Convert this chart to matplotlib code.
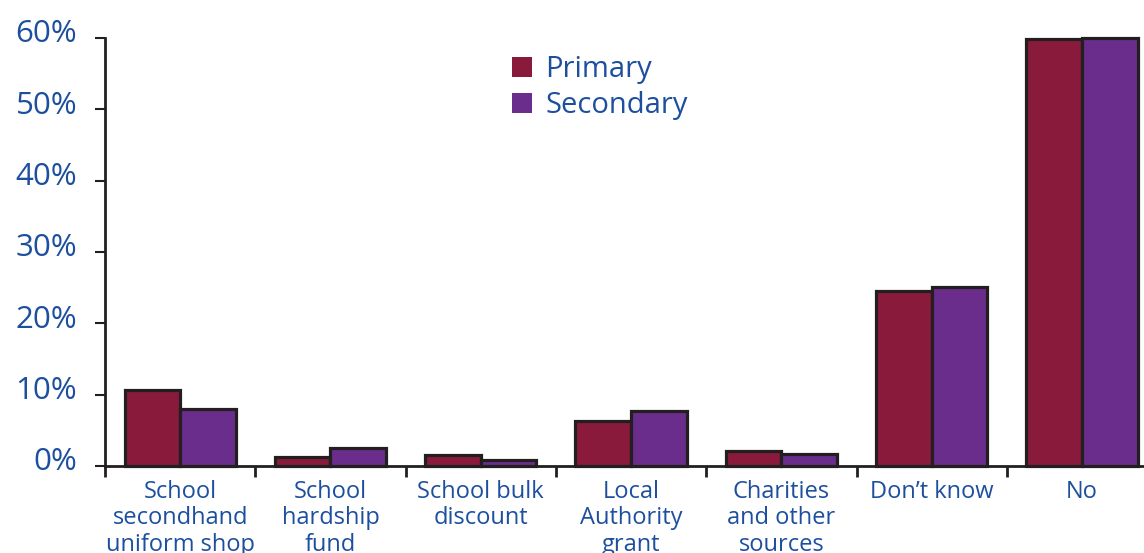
import matplotlib
matplotlib.use("Agg")
import matplotlib.pyplot as plt
import matplotlib.transforms as mtransforms
from matplotlib.patches import Patch
import numpy as np

plt.rcParams['font.family'] = ['Open Sans', 'DejaVu Sans']

categories = [
    "School\nsecondhand\nuniform shop",
    "School\nhardship\nfund",
    "School bulk\ndiscount",
    "Local\nAuthority\ngrant",
    "Charities\nand other\nsources",
    "Don\u2019t know",
    "No",
]
primary = [10.7, 1.3, 1.5, 6.3, 2.1, 24.5, 59.8]
secondary = [8.0, 2.5, 0.85, 7.7, 1.7, 25.1, 60.0]
series_names = ["Primary", "Secondary"]
y_ticks = [0, 10, 20, 30, 40, 50, 60]
y_tick_labels = ["0%", "10%", "20%", "30%", "40%", "50%", "60%"]

c_primary = "#8a1a3c"
c_secondary = "#6a2d8c"
c_edge = "#231f20"
c_text = "#1d4f9f"

W, H = 1144, 553
fig = plt.figure(figsize=(W / 100, H / 100), dpi=100)
ax = fig.add_axes([105 / W, (H - 466) / H, 1039 / W, 428 / H])

x = np.arange(len(categories))
bw = 0.37
ax.bar(x - bw / 2, primary, bw, color=c_primary, edgecolor=c_edge,
       linewidth=2.3, clip_on=False, zorder=3)
ax.bar(x + bw / 2, secondary, bw, color=c_secondary, edgecolor=c_edge,
       linewidth=2.3, clip_on=False, zorder=3)

for s in ("top", "right"):
    ax.spines[s].set_visible(False)
for s in ("left", "bottom"):
    ax.spines[s].set_linewidth(2)
    ax.spines[s].set_color(c_edge)

# category boundaries as ticks, labels at centres
ax.set_xticks(np.arange(-0.5, len(categories) + 0.5, 1.0))
ax.set_xticklabels([])
ax.set_xticks(x, minor=True)
ax.set_xticklabels(categories, minor=True, fontsize=17, color=c_text,
                   linespacing=1.13, va="top")
ax.tick_params(axis="x", which="major", direction="out", length=8, width=2,
               color=c_edge)
ax.tick_params(axis="x", which="minor", length=0, pad=10)

ax.set_yticks(y_ticks)
ax.set_yticklabels(y_tick_labels, fontsize=22.5, color=c_text)
ax.tick_params(axis="y", direction="out", length=7, width=1.5, color=c_edge,
               pad=13)
lift = mtransforms.ScaledTranslation(0, 7 / 100, fig.dpi_scale_trans)
for lbl in ax.get_yticklabels():
    lbl.set_transform(lbl.get_transform() + lift)

# limits last so tick placement cannot widen them
ax.set_xlim(-0.5, -0.5 + 1039 / 150.3)
ax.set_ylim(0, 60)

handles = [Patch(facecolor=c_primary, edgecolor="none"),
           Patch(facecolor=c_secondary, edgecolor="none")]
leg = fig.legend(handles, series_names, loc="upper left",
                 bbox_to_anchor=(512 / W, 1 - 55 / H), frameon=False,
                 fontsize=21, labelcolor=c_text, handlelength=0.7,
                 handleheight=0.7, handletextpad=0.45, labelspacing=0.25,
                 borderaxespad=0, borderpad=0)

fig.savefig("out.png", dpi=100)
